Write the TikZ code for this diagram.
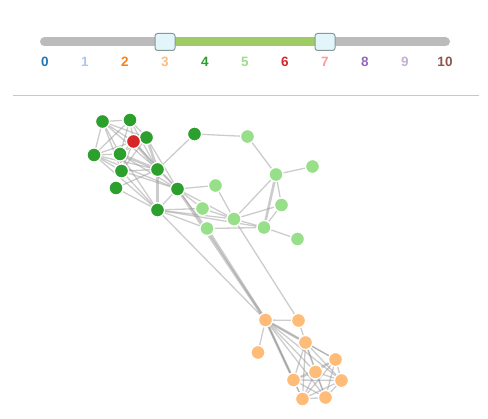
\documentclass[tikz,border=0pt]{standalone}
\usepackage{fontspec}
\setmainfont{Liberation Sans}
\usetikzlibrary{backgrounds}
\begin{document}
\begin{tikzpicture}[x=1pt,y=-1pt,
  nd/.style={circle,draw=white,line width=1.2pt,minimum size=14pt,inner sep=0pt},
  g4/.style={nd,fill=c4},
  g5/.style={nd,fill=c5},
  g3/.style={nd,fill=c3},
  g6/.style={nd,fill=c6},
  ed/.style={draw=edgec,line width=1.3pt,opacity=0.5},
  edk/.style={draw=edgec,line width=2.6pt,opacity=0.5},
  lab/.style={font=\bfseries\fontsize{13.5}{13.5}\selectfont,inner sep=0pt},
  handle/.style={draw=handlec,fill=handlef,line width=1pt,rounded corners=2.5pt,minimum width=20pt,minimum height=17pt,inner sep=0pt}
]
\definecolor{c0}{HTML}{1F77B4}
\definecolor{c1}{HTML}{AEC7E8}
\definecolor{c2}{HTML}{FF7F0E}
\definecolor{c3}{HTML}{FFBB78}
\definecolor{c4}{HTML}{2CA02C}
\definecolor{c5}{HTML}{98DF8A}
\definecolor{c6}{HTML}{D62728}
\definecolor{c7}{HTML}{FF9896}
\definecolor{c8}{HTML}{9467BD}
\definecolor{c9}{HTML}{C5B0D5}
\definecolor{c10}{HTML}{8C564B}
\definecolor{edgec}{HTML}{999999}
\definecolor{trackc}{HTML}{BBBBBB}
\definecolor{rangec}{HTML}{9ECB63}
\definecolor{handlec}{HTML}{8A9898}
\definecolor{handlef}{HTML}{E2F5FA}
\definecolor{divc}{HTML}{C8C8C8}
\useasboundingbox (0,0) rectangle (488,419);
% slider
\coordinate (t0) at (44.5,42);
\coordinate (t1) at (445.5,42);
\coordinate (h0) at (165,42);
\coordinate (h1) at (325,42);
\draw[trackc,line width=9pt,line cap=round] (t0) -- (t1);
\draw[rangec,line width=9pt] (h0) -- (h1);
\node[handle] (ha) at (h0) {};
\node[handle] (hb) at (h1) {};
\foreach \i in {0,...,10}{
  \node[lab,text=c\i] (l\i) at (45+40*\i,62) {\i};
}
\coordinate (d0) at (13,96);
\coordinate (d1) at (479,96);
\draw[divc,line width=1pt] (d0) -- (d1);
% nodes
\node[g4] (a1) at (102.5,121.5) {};
\node[g4] (a2) at (130,120) {};
\node[g4] (a3) at (146.5,137.5) {};
\node[g6] (r)  at (133.5,141.5) {};
\node[g4] (a4) at (94,155) {};
\node[g4] (a5) at (120,154) {};
\node[g4] (a6) at (121.5,171) {};
\node[g4] (a7) at (157.5,169.5) {};
\node[g4] (a8) at (116,188) {};
\node[g4] (a9) at (177.5,189) {};
\node[g4] (a10) at (157.5,210) {};
\node[g4] (a11) at (194.5,134) {};
\node[g5] (b1) at (247.5,136.5) {};
\node[g5] (b2) at (276,174.5) {};
\node[g5] (b3) at (312.5,166.5) {};
\node[g5] (b4) at (215.5,185.5) {};
\node[g5] (b5) at (281.5,205) {};
\node[g5] (b6) at (202.5,208.5) {};
\node[g5] (b7) at (234,219) {};
\node[g5] (b8) at (264,227.5) {};
\node[g5] (b9) at (207,228.5) {};
\node[g5] (b10) at (297.5,239) {};
\node[g3] (o1) at (265.5,320) {};
\node[g3] (o2) at (298.5,320.5) {};
\node[g3] (o3) at (258,352.5) {};
\node[g3] (o4) at (305.5,342.5) {};
\node[g3] (o5) at (335.5,359.5) {};
\node[g3] (o6) at (315.5,372) {};
\node[g3] (o7) at (293.5,380) {};
\node[g3] (o8) at (341.5,380.5) {};
\node[g3] (o9) at (302.5,399) {};
\node[g3] (o10) at (325.5,397.5) {};
% edges
\begin{scope}[on background layer]
\foreach \u/\v in {a1/a2,a1/a4,a1/a5,a1/r,a1/a3,a1/a7,a1/a6,
  a2/a3,a2/r,a2/a5,a2/a4,a2/a7,
  a3/r,a3/a5,a3/a9,a3/a6,
  r/a5,r/a4,r/a6,r/a9,
  a4/a5,a4/a6,a4/a10,a4/a9,a4/a7,
  a5/a6,a5/a9,a5/a10,
  a6/a7,a6/a9,a6/a10,
  a7/a9,a8/a7,a8/a10,a9/a10,a7/a11,
  a11/b1,b1/b2,b2/b3,b2/b7,b2/b5,b5/b8,b5/b7,b7/b8,b9/b8,b8/b10,
  b4/b7,b4/a9,b6/b7,b6/a9,a9/b7,a9/b9,a10/b7,a10/b9,a10/b6,a10/b8,
  a10/o1,b7/o2,
  o1/o2,o1/o3,o1/o5,o1/o6,o1/o7,o1/o8,o1/o9,o1/o10,o2/o4,
  o4/o5,o4/o6,o4/o7,o4/o8,o4/o9,o4/o10,
  o5/o6,o5/o7,o5/o8,o5/o9,o5/o10,
  o6/o7,o6/o8,o6/o9,o6/o10,
  o7/o8,o7/o9,o7/o10,o8/o9,o8/o10,o9/o10}
  \draw[ed] (\u) -- (\v);
\foreach \u/\v in {a3/a7,r/a7,a5/a7,a7/a10,b2/b8,a9/o1,b9/o1,o1/o4,o1/o7}
  \draw[edk] (\u) -- (\v);
\end{scope}
\end{tikzpicture}
\end{document}
